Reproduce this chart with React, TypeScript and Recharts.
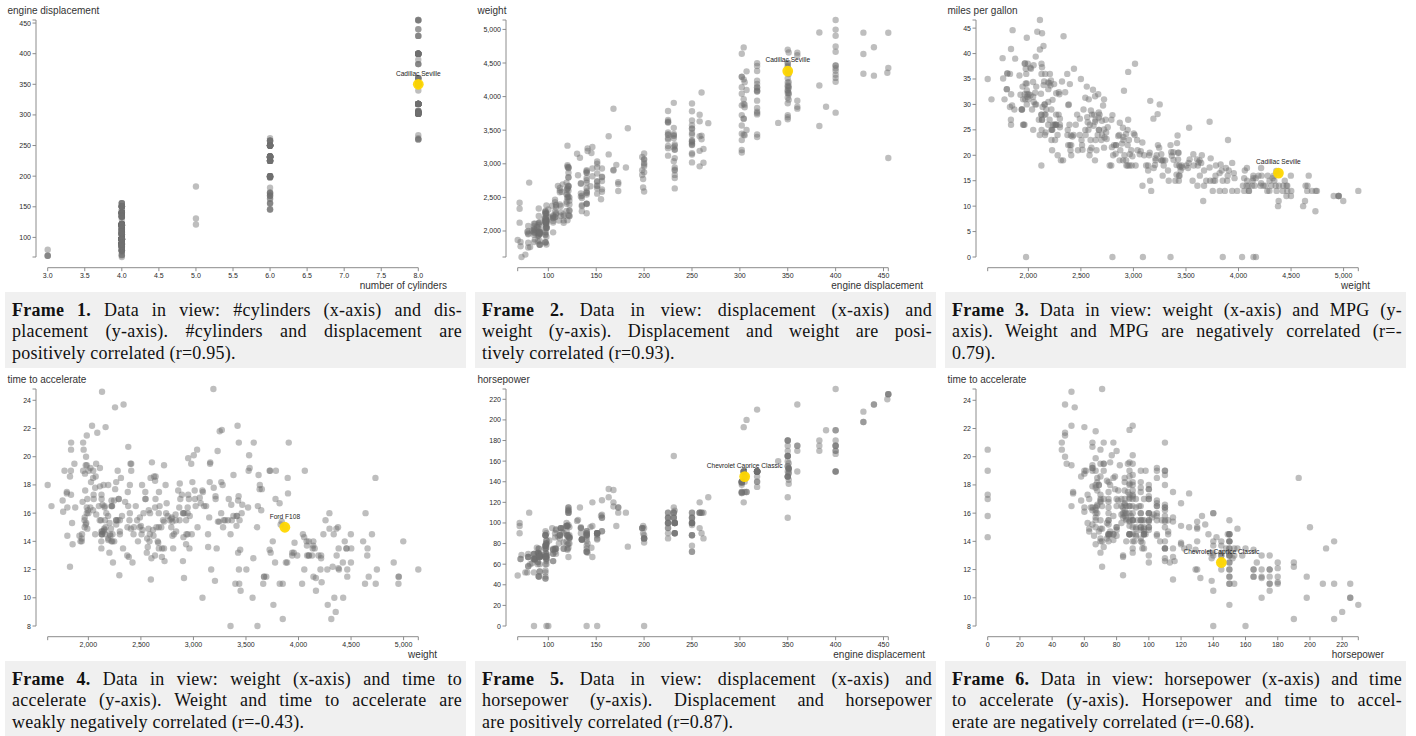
import React from 'react';
import { ScatterChart, Scatter, XAxis, YAxis } from 'recharts';

// ---- data (one entry per car; missing values are drawn at 0 as in the reference) ----
const MPG = [
  18,15,18,16,17,15,14,14,14,15, 0,0,0,0,0,15,14,0,15,14,
  24,22,18,21,27,26,25,24,25,26, 21,10,10,11,9,27,28,25,25,0,
  19,16,17,19,18,14,14,14,14,12, 13,13,18,22,19,18,23,28,30,30,
  31,35,27,26,24,25,23,20,21,13, 14,15,14,17,11,13,12,13,19,15,
  13,13,14,18,22,21,26,22,28,23, 28,27,13,14,13,14,15,12,13,13,
  14,13,12,13,18,16,18,18,23,26, 11,12,13,12,18,20,21,22,18,19,
  21,26,15,16,29,24,20,19,15,24, 20,11,20,21,19,15,31,26,32,25,
  16,16,18,16,13,14,14,14,29,26, 26,31,32,28,24,26,24,26,31,19,
  18,15,15,16,15,16,14,17,16,15, 18,21,20,13,29,23,20,23,24,25,
  24,18,29,19,23,23,22,25,33,28, 25,25,26,27,17.5,16,15.5,14.5,22,22,
  24,22.5,29,24.5,29,33,20,18,18.5,17.5, 29.5,32,28,26.5,20,13,19,19,16.5,16.5,
  13,13,13,31.5,30,36,25.5,33.5,17.5,17, 15.5,15,17.5,20.5,19,18.5,16,15.5,15.5,16,
  29,24.5,26,25.5,30.5,33.5,30,30.5,22,21.5, 21.5,43.1,36.1,32.8,39.4,36.1,19.9,19.4,20.2,19.2,
  20.5,20.2,25.1,20.5,19.4,20.6,20.8,18.6,18.1,19.2, 17.7,18.1,17.5,30,27.5,27.2,30.9,21.1,23.2,23.8,
  23.9,20.3,17,21.6,16.2,31.5,29.5,21.5,19.8,22.3, 20.2,20.6,17,17.6,16.5,18.2,16.9,15.5,19.2,18.5,
  31.9,34.1,35.7,27.4,25.4,23,27.2,23.9,34.2,34.5, 31.8,37.3,28.4,28.8,26.8,33.5,41.5,38.1,32.1,37.2,
  28,26.4,24.3,19.1,34.3,29.8,31.3,37,32.2,46.6, 27.9,40.8,44.3,43.4,36.4,30,44.6,40.9,33.8,29.8,
  32.7,23.7,35,23.6,32.4,27.2,26.6,25.8,23.5,30, 39.1,39,35.1,32.3,37,37.7,34.1,34.7,34.4,29.9,
  33,34.5,33.7,32.4,32.9,31.6,28.1,0,30.7,25.4, 24.2,22.4,26.6,20.2,17.6,28,27,34,31,29,
  27,24,23,36,37,31,38,36,36,36, 34,38,32,38,25,38,26,22,32,36,
  27,27,44,32,28,31,
];

const CYLINDERS = [
  8,8,8,8,8,8,8,8,8,8, 4,8,8,8,8,8,8,8,8,8,
  4,6,6,6,4,4,4,4,4,4, 6,8,8,8,8,4,4,4,4,4,
  6,6,6,6,6,8,8,8,8,8, 8,8,6,4,6,6,4,4,4,4,
  4,4,4,4,4,4,4,4,4,8, 8,8,8,8,8,8,8,8,3,8,
  8,8,8,4,4,4,4,4,4,4, 4,4,8,8,8,8,8,8,8,8,
  8,8,8,8,6,6,6,6,6,4, 8,8,8,8,6,4,4,4,3,4,
  6,4,8,8,4,4,4,4,8,4, 6,8,6,6,6,6,4,4,4,4,
  6,6,6,8,8,8,8,8,4,4, 4,4,4,4,4,4,4,4,4,6,
  6,6,6,8,8,8,8,6,6,6, 6,6,8,8,4,4,6,4,4,4,
  4,6,4,6,4,4,4,4,4,4, 4,4,4,4,8,8,8,8,6,6,
  6,6,4,4,4,4,6,6,6,6, 4,4,4,4,4,8,4,6,6,8,
  8,8,8,4,4,4,4,4,8,8, 8,8,6,6,6,6,8,8,8,8,
  4,4,4,4,4,4,4,4,6,4, 3,4,4,4,4,4,8,8,8,6,
  6,6,4,6,6,6,6,6,6,8, 6,8,8,4,4,4,4,4,4,4,
  4,5,6,4,6,4,4,6,6,4, 6,6,8,8,8,8,8,8,8,8,
  4,4,4,4,5,8,4,8,4,4, 4,4,4,6,6,4,4,4,4,4,
  4,4,4,6,4,4,4,4,4,4, 4,4,4,4,5,4,4,4,4,4,
  6,3,4,4,4,4,4,4,6,4, 4,4,4,4,4,4,4,4,4,4,
  4,4,4,4,4,4,4,4,6,6, 6,6,8,6,6,4,4,4,4,4,
  4,4,4,4,4,4,4,4,4,4, 4,4,4,4,6,6,4,6,4,4,
  4,4,4,4,4,4,
];

const DISPLACEMENT = [
  307,350,318,304,302,429,454,440,455,390, 133,350,351,383,360,383,340,302,400,455,
  113,198,199,200,97,97,110,107,104,121, 199,360,307,318,304,97,140,113,98,97,
  232,225,250,250,232,350,400,351,318,383, 400,400,258,140,250,250,122,116,79,88,
  71,72,97,91,113,97.5,97,140,122,350, 400,318,351,304,429,350,350,400,70,304,
  307,302,318,121,121,120,96,122,97,120, 98,97,350,304,350,302,318,429,400,351,
  318,440,455,360,225,250,232,250,198,97, 400,400,360,350,232,97,140,108,70,122,
  155,98,350,400,68,116,114,121,318,121, 156,350,198,200,232,250,79,122,71,140,
  250,258,225,302,350,318,302,304,98,79, 97,76,83,90,90,116,120,108,79,225,
  250,250,250,400,350,318,351,231,250,258, 225,231,262,302,97,140,232,140,134,90,
  119,171,90,232,115,120,121,121,91,107, 116,140,98,101,305,318,304,351,225,250,
  200,232,85,98,90,91,225,250,250,258, 97,85,97,140,130,318,120,156,168,350,
  350,302,318,98,111,79,122,85,305,260, 318,302,250,231,225,250,400,350,400,351,
  97,151,97,140,98,98,97,97,146,121, 80,90,98,78,85,91,260,318,302,231,
  200,200,140,225,232,231,200,225,258,305, 231,302,318,98,134,119,105,134,156,151,
  119,131,163,121,163,89,98,231,200,140, 232,225,305,302,351,318,350,351,267,360,
  89,86,98,121,183,350,141,260,105,105, 85,91,151,173,173,151,98,89,98,86,
  151,140,151,225,97,134,120,119,108,86, 156,85,90,90,121,146,91,85,97,89,
  168,70,122,140,107,135,151,156,173,135, 79,86,81,97,85,89,91,105,98,98,
  105,100,107,108,119,120,141,121,145,168, 146,231,350,200,225,112,112,112,112,135,
  151,140,151,105,91,91,105,98,120,107, 108,91,91,91,181,262,156,232,144,135,
  151,140,97,135,120,119,
];

const HORSEPOWER = [
  130,165,150,150,140,198,220,215,225,190, 115,165,153,175,175,170,160,140,150,225,
  95,95,97,85,88,46,87,90,95,113, 90,215,200,210,193,88,90,95,0,48,
  100,105,100,88,100,165,175,153,150,180, 170,175,110,72,100,88,86,90,70,76,
  65,69,60,70,95,80,54,90,86,165, 175,150,153,150,208,155,160,190,97,150,
  130,140,150,112,76,87,69,86,92,97, 80,88,175,150,145,137,150,198,150,158,
  150,215,225,175,105,100,100,88,95,46, 150,167,170,180,100,88,72,94,90,85,
  107,90,145,230,49,75,91,112,150,110, 122,180,95,0,100,100,67,80,65,75,
  100,110,105,140,150,150,140,150,83,67, 78,52,61,75,75,75,97,93,67,95,
  105,72,72,170,145,150,148,110,105,110, 95,110,110,129,75,83,100,78,96,71,
  97,97,70,90,95,88,98,115,53,86, 81,92,79,83,140,150,120,152,100,105,
  81,90,52,60,70,53,100,78,110,95, 71,70,75,72,102,150,88,108,120,180,
  145,130,150,68,80,58,96,70,145,110, 145,130,110,105,100,98,180,170,190,149,
  78,88,75,89,63,83,67,78,97,110, 110,48,66,52,70,60,110,140,139,105,
  95,85,88,100,90,105,85,110,120,145, 165,139,140,68,95,97,75,95,105,85,
  97,103,125,115,133,71,68,115,85,88, 90,110,130,129,138,135,155,142,125,150,
  71,65,80,80,77,125,71,90,70,70, 65,69,90,115,115,90,76,60,70,65,
  90,88,90,90,78,90,75,92,75,65, 105,65,48,48,67,67,67,0,67,62,
  132,100,88,0,72,84,84,92,110,84, 58,64,60,67,65,62,68,63,65,65,
  74,0,75,75,100,74,80,110,76,116, 120,110,105,88,85,88,88,88,85,84,
  90,92,0,74,68,68,63,70,88,75, 70,67,67,67,110,85,92,112,96,84,
  90,86,52,84,79,82,
];

const WEIGHT = [
  3504,3693,3436,3433,3449,4341,4354,4312,4425,3850, 3090,4142,4034,4166,3850,3563,3609,3353,3761,3086,
  2372,2833,2774,2587,2130,1835,2672,2430,2375,2234, 2648,4615,4376,4382,4732,2130,2264,2228,2046,1978,
  2634,3439,3329,3302,3288,4209,4464,4154,4096,4955, 4746,5140,2962,2408,3282,3139,2220,2123,2074,2065,
  1773,1613,1834,1955,2278,2126,2254,2408,2226,4274, 4385,4135,4129,3672,4633,4502,4456,4422,2330,3892,
  4098,4294,4077,2933,2511,2979,2189,2395,2288,2506, 2164,2100,4100,3672,3988,4042,3777,4952,4464,4363,
  4237,4735,4951,3821,3121,3278,2945,3021,2904,1950, 4997,4906,4654,4499,2789,2279,2401,2379,2124,2310,
  2472,2265,4082,4278,1867,2158,2582,2868,3399,2660, 2807,3664,3102,2875,2901,3336,1950,2451,1836,2542,
  3781,3632,3613,4141,4699,4457,4638,4257,2219,1963, 2300,1649,2003,2125,2108,2246,2489,2391,2000,3264,
  3459,3432,3158,4668,4440,4498,4657,3907,3897,3730, 3785,3039,3221,3169,2171,2639,2914,2592,2702,2223,
  2545,2984,1937,3211,2694,2957,2945,2671,1795,2464, 2220,2572,2255,2202,4215,4190,3962,4215,3233,3353,
  3012,3085,2035,2164,1937,1795,3651,3574,3645,3193, 1825,1990,2155,2565,3150,3940,3270,2930,3820,4380,
  4055,3870,3755,2045,2155,1825,2300,1945,3880,4060, 4140,4295,3520,3425,3630,3525,4220,4165,4325,4335,
  1940,2740,2265,2755,2051,2075,1985,2190,2815,2600, 2720,1985,1800,1985,2070,1800,3365,3735,3570,3535,
  3155,2965,2720,3430,3210,3380,3070,3620,3410,3425, 3445,3205,4080,2155,2560,2300,2230,2515,2745,2855,
  2405,2830,3140,2795,3410,1990,2135,3245,2990,2890, 3265,3360,3840,3725,3955,3830,4360,4054,3605,3940,
  1925,1975,1915,2670,3530,3900,3190,3420,2200,2150, 2020,2130,2670,2595,2700,2556,2144,1968,2120,2019,
  2678,2870,3003,3381,2188,2711,2542,2434,2265,2110, 2800,2110,2085,2335,2950,3250,1850,1835,2145,1845,
  2910,2420,2500,2905,2290,2490,2635,2620,2725,2385, 1755,1875,1760,2065,1975,2050,1985,2215,2045,2380,
  2190,2320,2210,2350,2615,2635,3230,2800,3160,2900, 2930,3415,3725,3060,3465,2605,2640,2395,2575,2525,
  2735,2865,3035,1980,2025,1970,2125,2125,2160,2205, 2245,1965,1965,1995,2945,3015,2585,2835,2665,2370,
  2950,2790,2130,2295,2625,2720,
];

const ACCELERATION = [
  12,11.5,11,12,10.5,10,9,8.5,10,8.5, 17.5,11.5,11,10.5,11,10,8,8,9.5,10,
  15,15.5,15.5,16,14.5,20.5,17.5,14.5,17.5,12.5, 15,14,15,13.5,18.5,14.5,15.5,14,19,20,
  13,15.5,15.5,15.5,15.5,12,11.5,13.5,13,11.5, 12,12,13.5,19,15,14.5,14,14,19.5,14.5,
  19,18,19,20.5,15.5,17,23.5,19.5,16.5,12, 12,13.5,13,11.5,11,13.5,13.5,12.5,13.5,12.5,
  14,16,14,14.5,18,19.5,18,16,17,14.5, 15,16.5,13,11.5,13,14.5,12.5,11.5,12,13,
  14.5,11,11,11,16.5,18,16,16.5,16,21, 14,12.5,13,12.5,15,19,19.5,16.5,13.5,18.5,
  14,15.5,13,9.5,19.5,15.5,14,15.5,11,14, 13.5,11,16.5,17,16,17,19,16.5,21,17,
  17,18,16.5,14,14.5,13.5,16,15.5,16.5,15.5, 14.5,16.5,19,14.5,15.5,14,15,15.5,16,16,
  16,21,19.5,11.5,14,14.5,13.5,21,18.5,19, 19,15,13.5,12,16,17,16,18.5,13.5,16.5,
  17,14.5,14,17,15,17,14.5,13.5,17.5,15.5, 16.9,14.9,17.7,15.3,13,13,13.9,12.8,15.4,14.5,
  17.6,17.6,22.2,22.1,14.2,17.4,17.7,21,16.2,17.8, 12.2,17,16.4,13.6,15.7,13.2,21.9,15.5,16.7,12.1,
  12,15,14,18.5,14.8,18.6,15.5,16.8,12.5,19, 13.7,14.9,16.4,16.9,17.7,19,11.1,11.4,12.2,14.5,
  14.5,16,18.2,15.8,17,15.9,16.4,14.1,14.5,12.8, 13.5,21.5,14.4,19.4,18.6,16.4,15.5,13.2,12.8,19.2,
  18.2,15.8,15.4,17.2,17.2,15.8,16.7,18.7,15.1,13.2, 13.4,11.2,13.7,16.5,14.2,14.7,14.5,14.8,16.7,17.6,
  14.9,15.9,13.6,15.7,15.8,14.9,16.6,15.4,18.2,17.3, 18.2,16.6,15.4,13.4,13.2,15.2,14.9,14.3,15,13,
  14,15.2,14.4,15,20.1,17.4,24.8,22.2,13.2,14.9, 19.2,14.7,16,11.3,12.9,13.2,14.7,18.8,15.5,16.4,
  16.5,18.1,20.1,18.7,15.8,15.5,17.5,15,15.2,17.9, 14.4,19.2,21.7,23.7,19.9,21.8,13.8,17.3,18,15.3,
  11.4,12.5,15.1,14.3,17,15.7,16.4,14.4,12.6,12.9, 16.9,16.4,16.1,17.8,19.4,17.3,16,14.9,16.2,20.7,
  14.2,15.8,14.4,16.8,14.8,18.3,20.4,15.4,19.6,12.6, 13.8,15.8,19,17.1,16.6,19.6,18.6,18,16.2,16,
  18,16.4,20.5,15.3,18.2,17.6,14.7,17.3,14.5,14.5, 16.9,15,15.7,16.2,16.4,17,14.5,14.7,13.9,13,
  17.3,15.6,24.6,11.6,18.6,19.4,
];

// tick labels
const TICKS_CYL = [3, 3.5, 4, 4.5, 5, 5.5, 6, 6.5, 7, 7.5, 8];
const TICKS_DISP = [100, 150, 200, 250, 300, 350, 400, 450];
const TICKS_WEIGHT = [2000, 2500, 3000, 3500, 4000, 4500, 5000];
const TICKS_MPG = [0, 5, 10, 15, 20, 25, 30, 35, 40, 45];
const TICKS_ACCEL = [8, 10, 12, 14, 16, 18, 20, 22, 24];
const TICKS_HP = [0, 20, 40, 60, 80, 100, 120, 140, 160, 180, 200, 220];

// highlighted cars (row index) and their names
const CADILLAC_SEVILLE = 219;
const FORD_F108 = 221;
const CHEVROLET_CAPRICE = 228;

const CAPTIONS = [
  ['Data in view: #cylinders (x-axis) and dis-', 'placement (y-axis). #cylinders and displacement are', 'positively correlated (r=0.95).'],
  ['Data in view: displacement (x-axis) and', 'weight (y-axis). Displacement and weight are posi-', 'tively correlated (r=0.93).'],
  ['Data in view: weight (x-axis) and MPG (y-', 'axis). Weight and MPG are negatively correlated (r=-', '0.79).'],
  ['Data in view: weight (x-axis) and time to', 'accelerate (y-axis). Weight and time to accelerate are', 'weakly negatively correlated (r=-0.43).'],
  ['Data in view: displacement (x-axis) and', 'horsepower (y-axis). Displacement and horsepower', 'are positively correlated (r=0.87).'],
  ['Data in view: horsepower (x-axis) and time', 'to accelerate (y-axis). Horsepower and time to accel-', 'erate are negatively correlated (r=-0.68).'],
];

const fmtNum = (v: number) => v.toLocaleString('en-US');
const fmtOne = (v: number) => v.toFixed(1);

type PanelCfg = {
  xs: number[]; ys: number[]; xTicks: number[]; yTicks: number[];
  xFmt: (v: number) => string; yFmt: (v: number) => string;
  xTitle: string; yTitle: string; xTitleEnd: number;
  hl: number; hlName: string;
};

const PANELS: PanelCfg[] = [
  { xs: CYLINDERS, ys: DISPLACEMENT, xTicks: TICKS_CYL, yTicks: TICKS_DISP, xFmt: fmtOne, yFmt: fmtNum,
    xTitle: 'number of cylinders', yTitle: 'engine displacement', xTitleEnd: 447, hl: CADILLAC_SEVILLE, hlName: 'Cadillac Seville' },
  { xs: DISPLACEMENT, ys: WEIGHT, xTicks: TICKS_DISP, yTicks: TICKS_WEIGHT, xFmt: fmtNum, yFmt: fmtNum,
    xTitle: 'engine displacement', yTitle: 'weight', xTitleEnd: 453, hl: CADILLAC_SEVILLE, hlName: 'Cadillac Seville' },
  { xs: WEIGHT, ys: MPG, xTicks: TICKS_WEIGHT, yTicks: TICKS_MPG, xFmt: fmtNum, yFmt: fmtNum,
    xTitle: 'weight', yTitle: 'miles per gallon', xTitleEnd: 430, hl: CADILLAC_SEVILLE, hlName: 'Cadillac Seville' },
  { xs: WEIGHT, ys: ACCELERATION, xTicks: TICKS_WEIGHT, yTicks: TICKS_ACCEL, xFmt: fmtNum, yFmt: fmtNum,
    xTitle: 'weight', yTitle: 'time to accelerate', xTitleEnd: 437, hl: FORD_F108, hlName: 'Ford F108' },
  { xs: DISPLACEMENT, ys: HORSEPOWER, xTicks: TICKS_DISP, yTicks: TICKS_HP, xFmt: fmtNum, yFmt: fmtNum,
    xTitle: 'engine displacement', yTitle: 'horsepower', xTitleEnd: 455, hl: CHEVROLET_CAPRICE, hlName: 'Chevrolet Caprice Classic' },
  { xs: HORSEPOWER, ys: ACCELERATION, xTicks: TICKS_HP, yTicks: TICKS_ACCEL, xFmt: fmtNum, yFmt: fmtNum,
    xTitle: 'horsepower', yTitle: 'time to accelerate', xTitleEnd: 444, hl: CHEVROLET_CAPRICE, hlName: 'Chevrolet Caprice Classic' },
];

const SANS = '"Liberation Sans", Arial, Helvetica, sans-serif';
const AXIS_COLOR = '#8c8c8c';
const TICK_TEXT = '#2a2a2a';
const DOT_FILL = '#6f6f6f';

const PANEL_W = 470;
const PANEL_H = 292;
const ROW_STEP = 369;

function withEnds(ticks: number[], lo: number, hi: number) {
  const out = [...ticks];
  if (!out.includes(lo)) out.unshift(lo);
  if (!out.includes(hi)) out.push(hi);
  return out;
}

function Panel({ cfg }: { cfg: PanelCfg }) {
  const data = cfg.xs.map((x, i) => ({ x, y: cfg.ys[i] }));
  const xMin = Math.min(...cfg.xs), xMax = Math.max(...cfg.xs);
  const yMin = Math.min(...cfg.ys), yMax = Math.max(...cfg.ys);
  const hlData = [{ x: cfg.xs[cfg.hl], y: cfg.ys[cfg.hl] }];

  const XTick = (p: any) => {
    const v = p.payload.value;
    const labelled = cfg.xTicks.includes(v);
    return (
      <g>
        <line x1={p.x} x2={p.x} y1={p.y} y2={p.y + 3.5} stroke={AXIS_COLOR} strokeWidth={1} />
        {labelled && (
          <text x={p.x} y={p.y + 10.6} textAnchor="middle" fontSize={7} fontFamily={SANS} fill={TICK_TEXT}>
            {cfg.xFmt(v)}
          </text>
        )}
      </g>
    );
  };
  const YTick = (p: any) => {
    const v = p.payload.value;
    const labelled = cfg.yTicks.includes(v);
    return (
      <g>
        <line x1={p.x - 3.5} x2={p.x} y1={p.y} y2={p.y} stroke={AXIS_COLOR} strokeWidth={1} />
        {labelled && (
          <text x={p.x - 5} y={p.y + 2.5} textAnchor="end" fontSize={7} fontFamily={SANS} fill={TICK_TEXT}>
            {cfg.yFmt(v)}
          </text>
        )}
      </g>
    );
  };

  return (
    <ScatterChart width={PANEL_W} height={PANEL_H} margin={{ top: 20, right: 51.7, bottom: 0, left: 0 }}>
      <XAxis xAxisId="gap" type="number" domain={[0, 1]} height={10.7} tick={false} axisLine={false} tickLine={false} />
      <XAxis
        xAxisId="x" dataKey="x" type="number" domain={[xMin, xMax]} height={24.3}
        ticks={withEnds(cfg.xTicks, xMin, xMax)} interval={0}
        tickSize={0} tickMargin={0} tickLine={false}
        axisLine={{ stroke: AXIS_COLOR, strokeWidth: 1 }} tick={XTick}
      />
      <YAxis yAxisId="gap" type="number" domain={[0, 1]} width={11.7} tick={false} axisLine={false} tickLine={false} />
      <YAxis
        yAxisId="y" dataKey="y" type="number" domain={[yMin, yMax]} width={36}
        ticks={withEnds(cfg.yTicks, yMin, yMax)} interval={0}
        tickSize={0} tickMargin={0} tickLine={false}
        axisLine={{ stroke: AXIS_COLOR, strokeWidth: 1 }} tick={YTick}
      />
      <Scatter
        xAxisId="x" yAxisId="y" data={data} isAnimationActive={false}
        shape={(p: any) => <circle cx={p.cx} cy={p.cy} r={3.2} fill={DOT_FILL} fillOpacity={0.45} />}
      />
      <Scatter
        xAxisId="x" yAxisId="y" data={hlData} isAnimationActive={false}
        shape={(p: any) => (
          <g>
            <circle cx={p.cx} cy={p.cy} r={5.4} fill="#FFD700" fillOpacity={0.95} />
            <text x={p.cx} y={p.cy - 8.6} textAnchor="middle" fontSize={6.6} fontFamily={SANS} fill="#222">
              {cfg.hlName}
            </text>
          </g>
        )}
      />
    </ScatterChart>
  );
}

function Caption({ n, lines }: { n: number; lines: string[] }) {
  return (
    <div
      style={{
        position: 'absolute', left: 0, top: 0, width: 461, height: 76, background: '#f0f0f0',
        boxSizing: 'border-box', padding: '7.8px 4px 0 7px', fontFamily: '"Liberation Serif", "Times New Roman", serif',
        fontSize: 18, lineHeight: '21.6px', letterSpacing: '0.25px', color: '#111',
      }}
    >
      {lines.map((l, i) => (
        <div key={i} style={{ textAlign: 'justify', textAlignLast: i < lines.length - 1 ? 'justify' : 'left' }}>
          {i === 0 ? (<><b>Frame {n}.</b> {l}</>) : l}
        </div>
      ))}
    </div>
  );
}

export default function App() {
  return (
    <div style={{ position: 'absolute', left: 0, top: 0, width: 1416, height: 736, background: '#fff', overflow: 'hidden' }}>
      {PANELS.map((cfg, i) => {
        const col = i % 3, row = Math.floor(i / 3);
        const left = col * PANEL_W, top = row * ROW_STEP;
        return (
          <React.Fragment key={i}>
            <div style={{ position: 'absolute', left, top, width: PANEL_W, height: PANEL_H }}>
              <Panel cfg={cfg} />
              <div style={{ position: 'absolute', left: 7.5, top: 6, fontFamily: SANS, fontSize: 10, lineHeight: '10px', color: '#333', whiteSpace: 'nowrap' }}>
                {cfg.yTitle}
              </div>
              <div style={{ position: 'absolute', right: PANEL_W - cfg.xTitleEnd, top: 280.5, fontFamily: SANS, fontSize: 10, lineHeight: '10px', color: '#333', whiteSpace: 'nowrap' }}>
                {cfg.xTitle}
              </div>
            </div>
            <div style={{ position: 'absolute', left: left + 5, top: top + PANEL_H, width: 461, height: 76 }}>
              <Caption n={i + 1} lines={CAPTIONS[i]} />
            </div>
          </React.Fragment>
        );
      })}
    </div>
  );
}
